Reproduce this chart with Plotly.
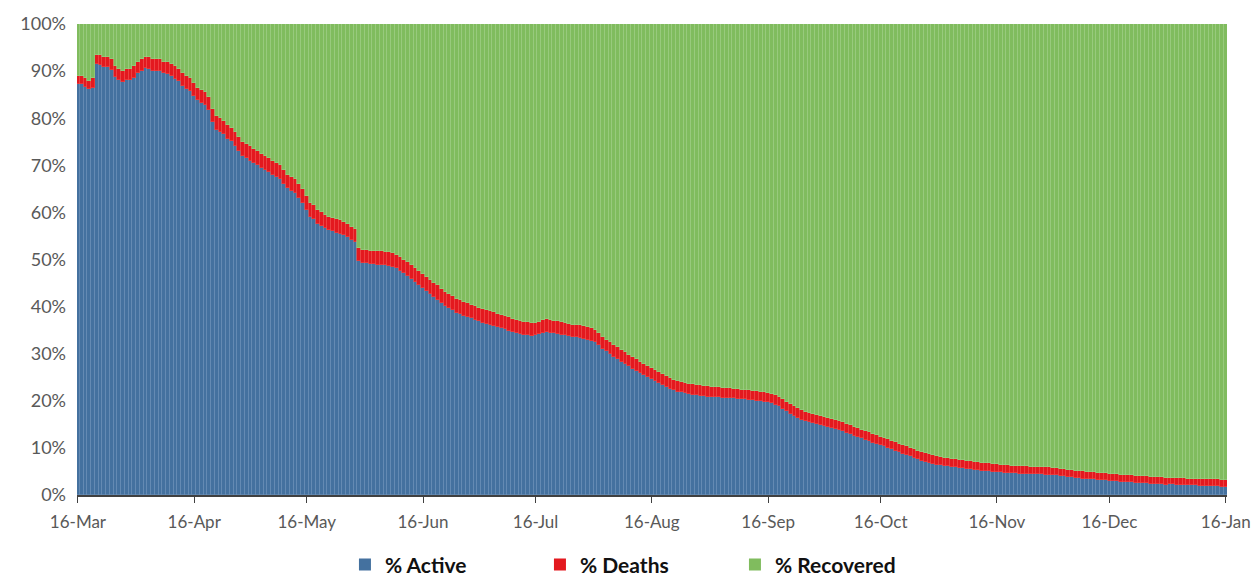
import pandas as pd
import plotly.graph_objects as go

# % Active, read month by month (16th of month to 15th of next)
active_mar_apr = [87.2, 87.2, 86.6, 86.1, 86.5, 91.5, 91.4, 90.9, 90.8, 90.3, 88.8, 88.2, 87.7, 88.2, 88.2, 88.6,
                  89.6, 90.1, 90.6, 90.5, 90.0, 90.0, 90.0, 89.5, 89.4, 88.9, 88.4, 87.9, 86.9, 86.3, 85.8]
active_apr_may = [84.8, 83.8, 83.2, 82.7, 81.7, 79.2, 77.6, 77.1, 76.6, 75.6, 75.1, 74.0, 73.0, 72.0, 71.5, 71.0,
                  70.5, 70.0, 69.5, 69.0, 68.5, 68.0, 67.5, 67.0, 66.0, 65.1, 64.6, 64.1, 63.1, 62.1]
active_may_jun = [60.6, 59.1, 58.6, 57.6, 57.1, 56.6, 56.2, 56.0, 55.7, 55.5, 55.2, 54.7, 54.2, 53.7, 49.7, 49.2,
                  49.2, 49.0, 49.0, 48.9, 48.9, 48.8, 48.7, 48.5, 48.2, 47.6, 47.1, 46.6, 45.9, 45.3, 44.6]
active_jun_jul = [44.0, 43.3, 42.6, 42.0, 41.5, 40.8, 40.2, 39.7, 39.2, 38.7, 38.4, 38.1, 37.8, 37.5, 37.2, 36.9,
                  36.6, 36.3, 36.1, 35.9, 35.7, 35.4, 35.2, 34.9, 34.6, 34.4, 34.2, 34.0, 33.9, 33.8]
active_jul_aug = [33.9, 34.1, 34.4, 34.6, 34.5, 34.3, 34.2, 34.0, 33.9, 33.7, 33.6, 33.5, 33.4, 33.2, 33.0, 32.8,
                  32.5, 31.8, 31.1, 30.5, 29.9, 29.4, 28.9, 28.3, 27.9, 27.3, 26.8, 26.4, 25.9, 25.5, 25.0]
active_aug_sep = [24.7, 24.3, 23.8, 23.4, 22.9, 22.5, 22.2, 21.9, 21.8, 21.6, 21.4, 21.3, 21.2, 21.1, 21.0, 20.9,
                  20.9, 20.8, 20.8, 20.7, 20.6, 20.6, 20.5, 20.4, 20.4, 20.3, 20.2, 20.1, 20.0, 19.9, 19.8]
active_sep_oct = [19.7, 19.5, 19.2, 18.8, 18.3, 17.8, 17.3, 16.8, 16.4, 16.0, 15.8, 15.5, 15.2, 15.0, 14.8, 14.6,
                  14.4, 14.2, 14.0, 13.8, 13.5, 13.2, 12.9, 12.6, 12.3, 12.0, 11.7, 11.4, 11.1, 10.8]
active_oct_nov = [10.6, 10.3, 10.0, 9.7, 9.4, 9.1, 8.8, 8.5, 8.2, 7.9, 7.6, 7.3, 7.1, 6.8, 6.6, 6.4,
                  6.3, 6.2, 6.1, 6.0, 5.9, 5.8, 5.7, 5.6, 5.5, 5.4, 5.3, 5.2, 5.1, 5.0, 4.9]
active_nov_dec = [4.9, 4.8, 4.7, 4.7, 4.6, 4.6, 4.5, 4.5, 4.5, 4.4, 4.4, 4.4, 4.4, 4.3, 4.3, 4.3,
                  4.2, 4.1, 4.0, 3.9, 3.8, 3.7, 3.6, 3.5, 3.4, 3.4, 3.3, 3.2, 3.2, 3.1]
active_dec_jan = [3.0, 3.0, 2.9, 2.8, 2.8, 2.7, 2.7, 2.6, 2.6, 2.5, 2.5, 2.4, 2.4, 2.3, 2.3, 2.2,
                  2.3, 2.3, 2.2, 2.2, 2.2, 2.1, 2.1, 2.1, 2.0, 2.0, 2.0, 1.9, 1.9, 1.9, 1.8, 1.8]

# % Deaths
deaths_mar_apr = [1.8, 1.8, 1.9, 1.9, 2.0, 2.0, 2.1, 2.1, 2.2, 2.2, 2.2, 2.3, 2.3, 2.3, 2.3, 2.4,
                  2.4, 2.4, 2.4, 2.5, 2.5, 2.5, 2.5, 2.5, 2.6, 2.6, 2.6, 2.6, 2.6, 2.7, 2.7]
deaths_apr_may = [2.7, 2.7, 2.8, 2.8, 2.8, 2.8, 2.9, 2.9, 2.9, 2.9, 2.9, 3.0, 3.0, 3.0, 3.0, 3.0,
                  3.0, 3.0, 3.0, 3.0, 3.0, 3.0, 3.0, 3.0, 3.0, 2.9, 2.9, 2.9, 2.9, 2.9]
deaths_may_jun = [2.9, 2.9, 2.9, 2.9, 2.9, 2.9, 2.8, 2.8, 2.8, 2.8, 2.8, 2.8, 2.8, 2.8, 2.8, 2.8,
                  2.8, 2.8, 2.8, 2.8, 2.8, 2.8, 2.8, 2.8, 2.8, 2.9, 2.9, 2.9, 2.9, 2.9, 2.9]
deaths_jun_jul = [3.0, 3.0, 3.0, 3.0, 3.0, 3.0, 3.0, 3.0, 3.0, 3.0, 2.9, 2.9, 2.9, 2.9, 2.9, 2.9,
                  2.9, 2.9, 2.9, 2.9, 2.8, 2.8, 2.8, 2.8, 2.8, 2.8, 2.8, 2.8, 2.8, 2.8]
deaths_jul_aug = [2.7, 2.7, 2.7, 2.7, 2.7, 2.7, 2.7, 2.7, 2.6, 2.6, 2.6, 2.6, 2.6, 2.6, 2.6, 2.6,
                  2.5, 2.5, 2.5, 2.5, 2.5, 2.5, 2.5, 2.5, 2.4, 2.4, 2.4, 2.4, 2.4, 2.4, 2.4]
deaths_aug_sep = [2.3, 2.3, 2.3, 2.3, 2.3, 2.3, 2.3, 2.3, 2.2, 2.2, 2.2, 2.2, 2.2, 2.2, 2.2, 2.2,
                  2.1, 2.1, 2.1, 2.1, 2.1, 2.1, 2.1, 2.1, 2.0, 2.0, 2.0, 2.0, 2.0, 2.0, 2.0]
deaths_sep_oct = [2.0, 2.0, 2.0, 2.0, 2.0, 2.0, 2.0, 2.0, 2.0, 2.0, 1.9, 1.9, 1.9, 1.9, 1.9, 1.9,
                  1.9, 1.9, 1.9, 1.9, 1.9, 1.9, 1.9, 1.9, 1.9, 1.9, 1.9, 1.9, 1.9, 1.9]
deaths_oct_nov = [1.8, 1.8, 1.8, 1.8, 1.8, 1.8, 1.8, 1.8, 1.8, 1.8, 1.8, 1.8, 1.8, 1.8, 1.8, 1.8,
                  1.7, 1.7, 1.7, 1.7, 1.7, 1.7, 1.7, 1.7, 1.7, 1.7, 1.7, 1.7, 1.7, 1.7, 1.7]
deaths_nov_dec = [1.6, 1.6, 1.6, 1.6, 1.6, 1.6, 1.6, 1.6, 1.6, 1.6, 1.6, 1.6, 1.6, 1.6, 1.6, 1.5,
                  1.5, 1.5, 1.5, 1.5, 1.5, 1.5, 1.5, 1.5, 1.5, 1.5, 1.5, 1.5, 1.5, 1.5]
deaths_dec_jan = [1.5, 1.5, 1.5, 1.5, 1.5, 1.5, 1.5, 1.5, 1.5, 1.5, 1.5, 1.5, 1.5, 1.5, 1.5, 1.5,
                  1.4, 1.4, 1.4, 1.4, 1.4, 1.4, 1.4, 1.4, 1.4, 1.4, 1.4, 1.4, 1.4, 1.4, 1.4, 1.4]

tick_dates = ["2020-03-16", "2020-04-16", "2020-05-16", "2020-06-16", "2020-07-16", "2020-08-16",
              "2020-09-16", "2020-10-16", "2020-11-16", "2020-12-16", "2021-01-16"]
tick_labels = ["16-Mar", "16-Apr", "16-May", "16-Jun", "16-Jul", "16-Aug",
               "16-Sep", "16-Oct", "16-Nov", "16-Dec", "16-Jan"]
series_names = ["% Active", "% Deaths", "% Recovered"]
series_colors = ["#44719f", "#e3191f", "#80bc5e"]
stripe_colors = ["#6a8fb8", "#ee4a4a", "#9ccd83"]

active = (active_mar_apr + active_apr_may + active_may_jun + active_jun_jul + active_jul_aug +
          active_aug_sep + active_sep_oct + active_oct_nov + active_nov_dec + active_dec_jan)
deaths = (deaths_mar_apr + deaths_apr_may + deaths_may_jun + deaths_jun_jul + deaths_jul_aug +
          deaths_aug_sep + deaths_sep_oct + deaths_oct_nov + deaths_nov_dec + deaths_dec_jan)
recovered = [round(100 - a - d, 2) for a, d in zip(active, deaths)]
dates = pd.date_range("2020-03-16", periods=len(active), freq="D")

fig = go.Figure()
for name, vals, col, scol in zip(series_names, [active, deaths, recovered], series_colors, stripe_colors):
    fig.add_bar(x=dates, y=vals, name=name, marker_color=col,
                marker_line=dict(width=0.6, color=scol), showlegend=False)
# legend entries with larger square swatches
for name, col in zip(series_names, series_colors):
    fig.add_scatter(x=[None], y=[None], mode="markers", name=name,
                    marker=dict(symbol="square", size=12, color=col))

fig.update_layout(
    barmode="stack",
    bargap=0,
    width=1258, height=577,
    margin=dict(l=77, r=31, t=24, b=82, autoexpand=False),
    plot_bgcolor="white", paper_bgcolor="white",
    font=dict(family="Lato, Open Sans, sans-serif", size=14, color="#595959"),
    showlegend=True,
    legend=dict(orientation="h", x=0.233, xanchor="left", y=-0.105, yref="paper",
                yanchor="top", entrywidth=150, itemwidth=30,
                font=dict(size=21, color="#111111", family="Lato, sans-serif", weight="bold"),
                traceorder="normal", itemsizing="trace"),
)
fig.update_xaxes(type="date", range=["2020-03-15 18:00", "2021-01-16 08:00"],
                 tickvals=tick_dates, ticktext=tick_labels,
                 ticks="outside", ticklen=6, tickcolor="#404040", showline=True,
                 linecolor="#404040", linewidth=1.5, showgrid=False, zeroline=False,
                 ticklabelstandoff=5,
                 tickfont=dict(size=17, color="#595959"))
fig.update_yaxes(range=[0, 100], tickvals=list(range(0, 101, 10)),
                 ticktext=[f"{v}%" for v in range(0, 101, 10)], showgrid=False, zeroline=False,
                 showline=False, ticks="", ticklabelstandoff=10,
                 tickfont=dict(size=18, color="#595959"))

fig.write_html("out.html", config={"displayModeBar": False},
               post_script="document.body.style.margin='0';document.body.style.overflow='hidden';")
